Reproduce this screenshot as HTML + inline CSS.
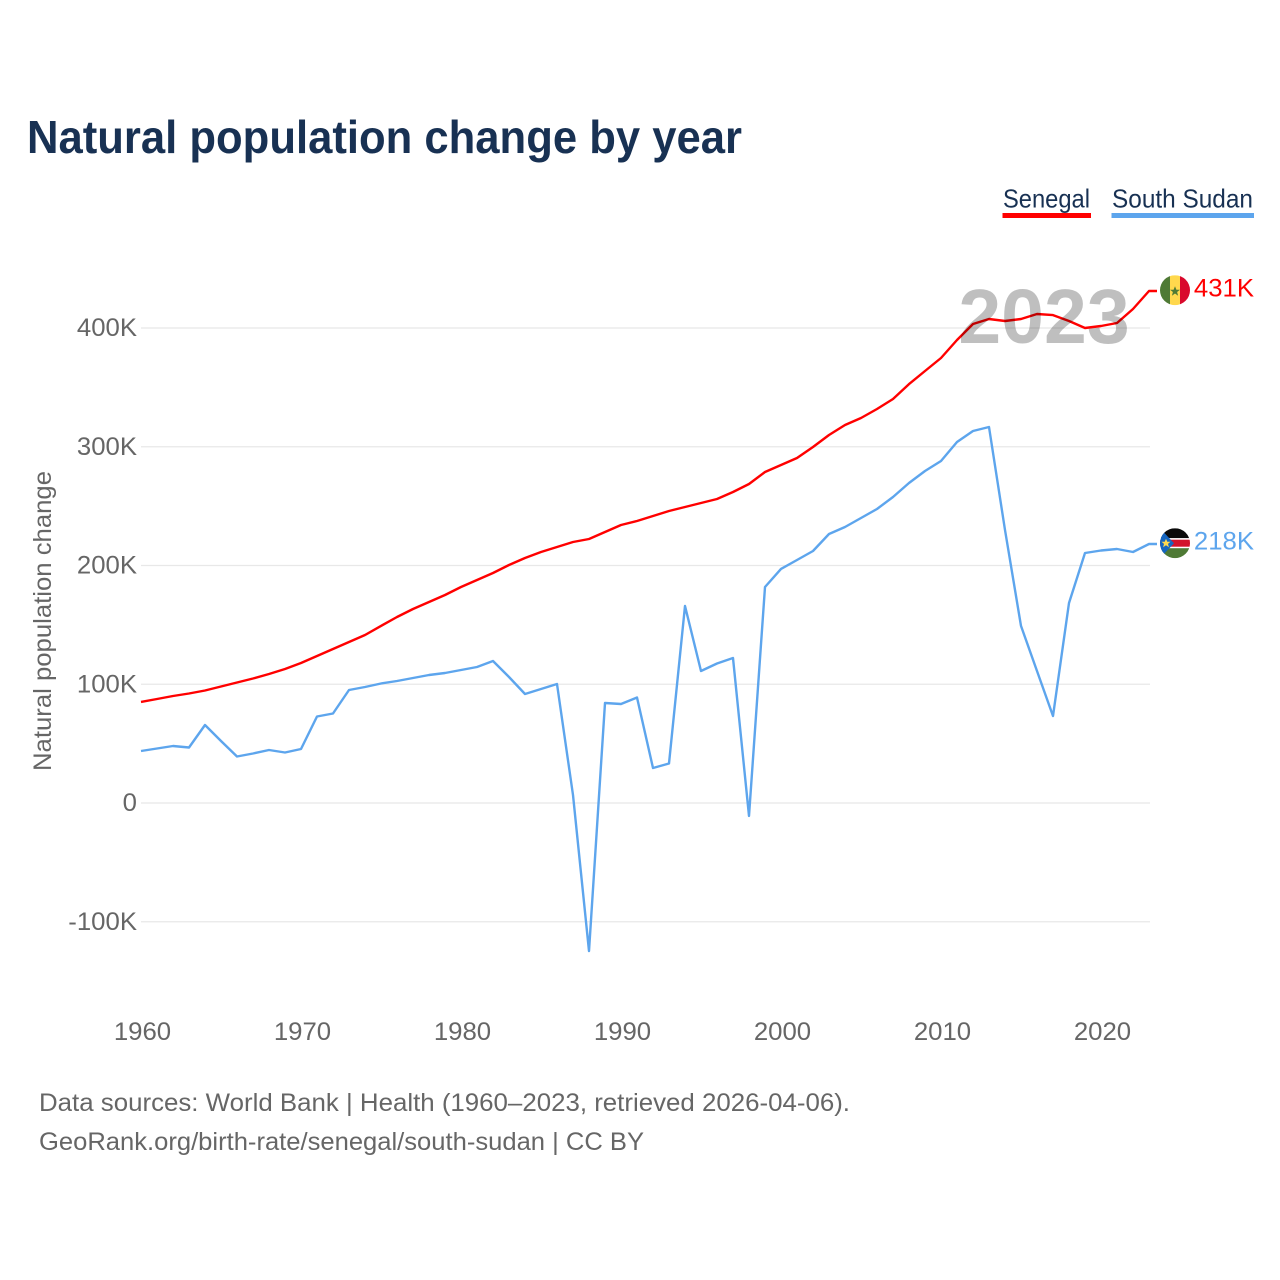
<!DOCTYPE html>
<html lang="en">
<head>
<meta charset="utf-8">
<title>Natural population change by year</title>
<style>
html,body{margin:0;padding:0;background:#fff;}
svg{display:block;font-family:"Liberation Sans",sans-serif;}
</style>
</head>
<body>
<svg id="chart" width="1280" height="1280" viewBox="0 0 1280 1280" xmlns="http://www.w3.org/2000/svg">
  <rect width="1280" height="1280" fill="#fff"/>
  <defs>
    <clipPath id="flag-clip"><circle cx="0" cy="0" r="15"/></clipPath>
  </defs>
  <text x="27" y="153" font-size="46" font-weight="700" fill="#183153" textLength="715" lengthAdjust="spacingAndGlyphs">Natural population change by year</text>

  <g>
    <g>
      <text x="1003" y="207.5" font-size="26" fill="#183153" textLength="87" lengthAdjust="spacingAndGlyphs">Senegal</text>
      <rect x="1002.5" y="213" width="88.5" height="5" fill="#ff0000"/>
    </g>
    <g>
      <text x="1112" y="207.5" font-size="26" fill="#183153" textLength="141" lengthAdjust="spacingAndGlyphs">South Sudan</text>
      <rect x="1111.5" y="213" width="142.5" height="5" fill="#5da5ed"/>
    </g>
  </g>

  <text transform="translate(51,771) rotate(-90)" font-size="25" fill="#666" textLength="300" lengthAdjust="spacingAndGlyphs">Natural population change</text>

  <g id="grid"></g>
  <g id="y-ticks"></g>
  <g id="x-ticks"></g>
  <g id="lines"></g>

  <text x="1044" y="343" font-size="77" font-weight="700" text-anchor="middle" fill="#000" fill-opacity="0.25">2023</text>

  <g id="flag-senegal" clip-path="url(#flag-clip)">
    <rect x="-15" y="-15" width="10" height="30" fill="#4f7a35"/>
    <rect x="-5" y="-15" width="10" height="30" fill="#ffd84d"/>
    <rect x="5" y="-15" width="10" height="30" fill="#d9092c"/>
    <polygon points="0,-4 1.4,-0.5 5,-0.5 2.1,1.8 3.1,5.5 0,3.3 -3.1,5.5 -2.1,1.8 -5,-0.5 -1.4,-0.5" fill="#4f7a35"/>
  </g>
  <g id="flag-south-sudan" clip-path="url(#flag-clip)">
    <rect x="-15" y="-15" width="30" height="10" fill="#0a0a0a"/>
    <rect x="-15" y="-5" width="30" height="10" fill="#fff"/>
    <rect x="-15" y="-3.5" width="30" height="7" fill="#d2142c"/>
    <rect x="-15" y="5" width="30" height="10" fill="#4f7a35"/>
    <polygon points="-15,-15 -1,0 -15,15" fill="#1565c0"/>
    <polygon points="-9,-4.5 -7.7,-1.4 -4.5,-1.4 -7,0.7 -6.1,4 -9,2.1 -11.9,4 -11,0.7 -13.5,-1.4 -10.3,-1.4" fill="#ffd84d"/>
  </g>

  <g>
    <text x="39" y="1111" font-size="25" fill="#666" textLength="811" lengthAdjust="spacingAndGlyphs">Data sources: World Bank | Health (1960–2023, retrieved 2026-04-06).</text>
    <text x="39" y="1150" font-size="25" fill="#666" textLength="605" lengthAdjust="spacingAndGlyphs">GeoRank.org/birth-rate/senegal/south-sudan | CC BY</text>
  </g>
</svg>
<script>
const years = [1960,1961,1962,1963,1964,1965,1966,1967,1968,1969,1970,1971,1972,1973,1974,1975,1976,1977,1978,1979,1980,1981,1982,1983,1984,1985,1986,1987,1988,1989,1990,1991,1992,1993,1994,1995,1996,1997,1998,1999,2000,2001,2002,2003,2004,2005,2006,2007,2008,2009,2010,2011,2012,2013,2014,2015,2016,2017,2018,2019,2020,2021,2022,2023];
const senegal = [85.1,87.6,90.1,92.2,94.7,98.1,101.5,104.8,108.6,112.8,117.9,123.8,129.7,135.6,141.5,149.1,156.6,163.4,169.3,175.2,181.9,187.8,193.7,200.4,206.3,211.4,215.6,219.8,222.3,228.2,234.1,237.5,241.7,245.9,249.3,252.6,256.0,261.9,268.6,278.7,284.6,290.5,299.8,309.9,318.3,324.2,331.8,340.2,352.8,363.8,374.7,389.9,403.4,407.6,405.9,407.6,411.8,410.9,405.9,400.0,401.7,404.2,416.0,431.2];
const southSudan = [43.8,45.9,48.0,46.7,65.7,52.2,39.2,41.7,44.6,42.5,45.5,72.8,75.4,95.2,97.7,100.6,102.7,105.3,107.8,109.5,112.0,114.5,119.6,106.1,91.8,96.0,100.2,6.7,-124.6,84.2,83.4,88.8,29.5,33.3,165.9,111.2,117.5,122.1,-10.9,181.9,197.1,204.6,212.2,226.5,232.4,240.0,247.6,257.7,269.5,279.6,288.0,304.0,313.3,316.6,229.9,149.1,111.2,73.3,168.4,210.5,212.6,213.9,211.4,218.1];
const yTickValues = [-100,0,100,200,300,400];
const yTickLabels = ["-100K","0","100K","200K","300K","400K"];
const xTickYears = [1960,1970,1980,1990,2000,2010,2020];

const NS = "http://www.w3.org/2000/svg";
const xScale = function (year) { return 141 + (year - 1960) * 16; };
const yScale = function (k) { return 803 - k * 1.1875; };
const axisRight = xScale(years[years.length - 1]);
const stubEnd = axisRight + 8;

function make(tag, parent, attrs) {
  const el = document.createElementNS(NS, tag);
  for (const key in attrs) { el.setAttribute(key, attrs[key]); }
  parent.appendChild(el);
  return el;
}
function widen(el, factor) {
  el.setAttribute("textLength", (el.getComputedTextLength() * factor).toFixed(1));
  el.setAttribute("lengthAdjust", "spacingAndGlyphs");
}

const grid = document.getElementById("grid");
const yTicks = document.getElementById("y-ticks");
yTickValues.forEach(function (v, i) {
  const y = yScale(v);
  const line = make("line", grid, { x1: xScale(1960), x2: axisRight + 1, y1: y, y2: y, stroke: "#e8e8e8", "stroke-width": 1.2 });
  
  
  const label = make("text", yTicks, { x: 137, y: y + 8, "text-anchor": "end", "font-size": 25, fill: "#666" });
  label.textContent = yTickLabels[i];
  
  
  widen(label, 1.03);
});

const xTicks = document.getElementById("x-ticks");
xTickYears.forEach(function (yr) {
  const label = make("text", xTicks, { x: xScale(yr) + 1.5, y: 1040, "text-anchor": "middle", "font-size": 25, fill: "#666" });
  label.textContent = String(yr);
  
  
  widen(label, 1.03);
});

function drawSeries(values, color, name, flagId) {
  const lines = document.getElementById("lines");
  const pts = values.map(function (v, i) { return xScale(years[i]).toFixed(1) + "," + yScale(v).toFixed(1); });
  const lastY = yScale(values[values.length - 1]);
  pts.push(stubEnd + "," + lastY.toFixed(1));
  const path = make("polyline", lines, { points: pts.join(" "), fill: "none", stroke: color, "stroke-width": 2.4, "stroke-linejoin": "round" });
  
  
  document.getElementById(flagId).setAttribute("transform", "translate(1175," + (lastY - 0.8).toFixed(1) + ")");
  const label = make("text", document.getElementById("chart"), { x: 1254, y: lastY + 5.5, "text-anchor": "end", "font-size": 25, fill: color });
  label.textContent = Math.round(values[values.length - 1]) + "K";
  
  
  widen(label, 1.03);
}
drawSeries(senegal, "#ff0000", "senegal", "flag-senegal");
drawSeries(southSudan, "#5da5ed", "south-sudan", "flag-south-sudan");
</script>
</body>
</html>
